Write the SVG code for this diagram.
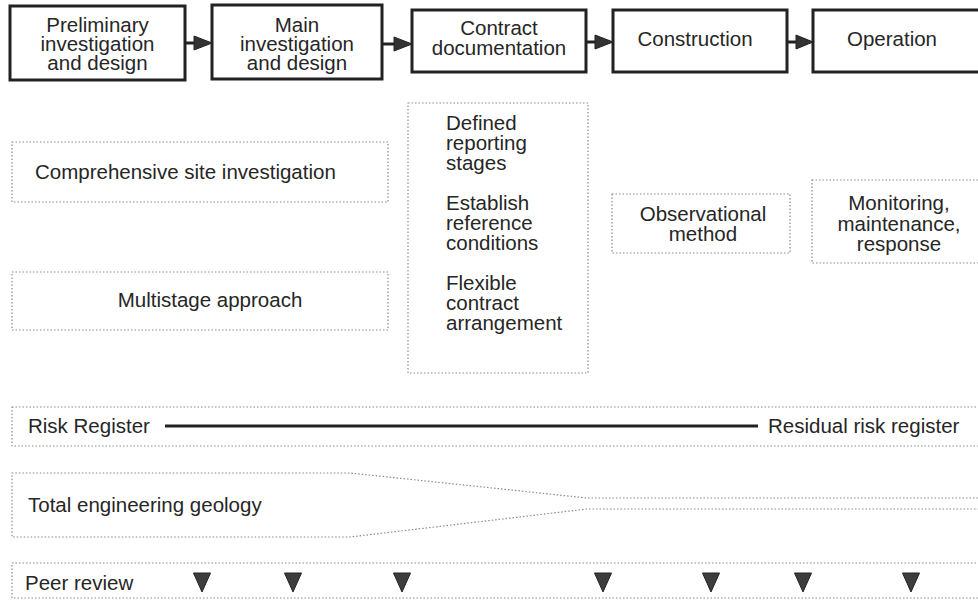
<svg xmlns="http://www.w3.org/2000/svg" width="978" height="600" viewBox="0 0 978 600">
<defs>
<style>
text{font-family:"Liberation Sans",Arial,sans-serif;fill:#262626}
.t{font-size:20.5px}
.s{font-size:20.5px}
.solid{fill:#fff;stroke:#222;stroke-width:3}
.dot{fill:none;stroke:#8a8a8a;stroke-width:1.2;stroke-dasharray:1.5 2}
.arr{fill:#333;stroke:#222;stroke-width:1}
.stub{stroke:#222;stroke-width:3}
.tri{fill:#3d3d3d;stroke:#222;stroke-width:1}
</style>
<polygon id="tri" class="tri" points="-8.5,573 8.5,573 0,592"/>
</defs>
<rect width="978" height="600" fill="#fff"/>

<g id="connectors">
<line class="stub" x1="185" y1="43" x2="195" y2="43"/>
<polygon class="arr" points="194,36 212,43 194,50"/>
<line class="stub" x1="382" y1="44" x2="395" y2="44"/>
<polygon class="arr" points="394,37 412,44 394,51"/>
<line class="stub" x1="586" y1="42" x2="596" y2="42"/>
<polygon class="arr" points="595,35 613,42 595,49"/>
<line class="stub" x1="787" y1="42" x2="797" y2="42"/>
<polygon class="arr" points="796,35 813,42 796,49"/>
<line x1="165" y1="426" x2="758" y2="426" stroke="#222" stroke-width="3"/>
</g>

<g id="n-prelim">
<rect class="solid" x="10" y="6" width="175" height="74"/>
<text class="t" text-anchor="middle" x="97.5" y="31.5">Preliminary</text>
<text class="t" text-anchor="middle" x="97.5" y="50.5">investigation</text>
<text class="t" text-anchor="middle" x="97.5" y="69.5">and design</text>
</g>
<g id="n-main">
<rect class="solid" x="212" y="5" width="170" height="74"/>
<text class="t" text-anchor="middle" x="297" y="31.5">Main</text>
<text class="t" text-anchor="middle" x="297" y="50.5">investigation</text>
<text class="t" text-anchor="middle" x="297" y="69.5">and design</text>
</g>
<g id="n-contract">
<rect class="solid" x="412" y="10" width="174" height="62"/>
<text class="t" text-anchor="middle" x="499" y="35">Contract</text>
<text class="t" text-anchor="middle" x="499" y="55">documentation</text>
</g>
<g id="n-construction">
<rect class="solid" x="613" y="10" width="174" height="62"/>
<text class="t" text-anchor="middle" x="695" y="46">Construction</text>
</g>
<g id="n-operation">
<rect class="solid" x="813" y="10" width="180" height="62"/>
<text class="t" text-anchor="middle" x="892" y="46">Operation</text>
</g>

<g id="n-comprehensive">
<rect class="dot" x="12" y="142" width="376" height="60"/>
<text class="s" x="35" y="179">Comprehensive site investigation</text>
</g>
<g id="n-multistage">
<rect class="dot" x="12" y="272" width="376" height="58"/>
<text class="s" text-anchor="middle" x="210" y="307">Multistage approach</text>
</g>
<g id="n-contract-items">
<rect class="dot" x="408" y="103" width="180" height="270"/>
<text class="s" x="446" y="130">Defined</text>
<text class="s" x="446" y="150">reporting</text>
<text class="s" x="446" y="170">stages</text>
<text class="s" x="446" y="210">Establish</text>
<text class="s" x="446" y="230">reference</text>
<text class="s" x="446" y="250">conditions</text>
<text class="s" x="446" y="290">Flexible</text>
<text class="s" x="446" y="310">contract</text>
<text class="s" x="446" y="330">arrangement</text>
</g>
<g id="n-observational">
<rect class="dot" x="612" y="194" width="178" height="59"/>
<text class="s" text-anchor="middle" x="703" y="221">Observational</text>
<text class="s" text-anchor="middle" x="703" y="241">method</text>
</g>
<g id="n-monitoring">
<rect class="dot" x="812" y="180" width="180" height="83"/>
<text class="s" text-anchor="middle" x="899" y="210">Monitoring,</text>
<text class="s" text-anchor="middle" x="899" y="231">maintenance,</text>
<text class="s" text-anchor="middle" x="899" y="251">response</text>
</g>

<g id="n-risk">
<rect class="dot" x="12" y="407" width="980" height="39"/>
<text class="s" x="28" y="433">Risk Register</text>
<text class="s" x="768" y="433">Residual risk register</text>
</g>
<g id="n-teg">
<path class="dot" d="M992,498 L587,498 L350,473 L12,473 L12,537 L350,537 L587,509 L992,509"/>
<text class="s" x="28" y="512">Total engineering geology</text>
</g>
<g id="n-peer">
<rect class="dot" x="12" y="563" width="980" height="35"/>
<text class="s" x="25" y="590">Peer review</text>
<use href="#tri" x="202"/>
<use href="#tri" x="293"/>
<use href="#tri" x="402"/>
<use href="#tri" x="603"/>
<use href="#tri" x="711"/>
<use href="#tri" x="803"/>
<use href="#tri" x="911"/>
</g>
</svg>
